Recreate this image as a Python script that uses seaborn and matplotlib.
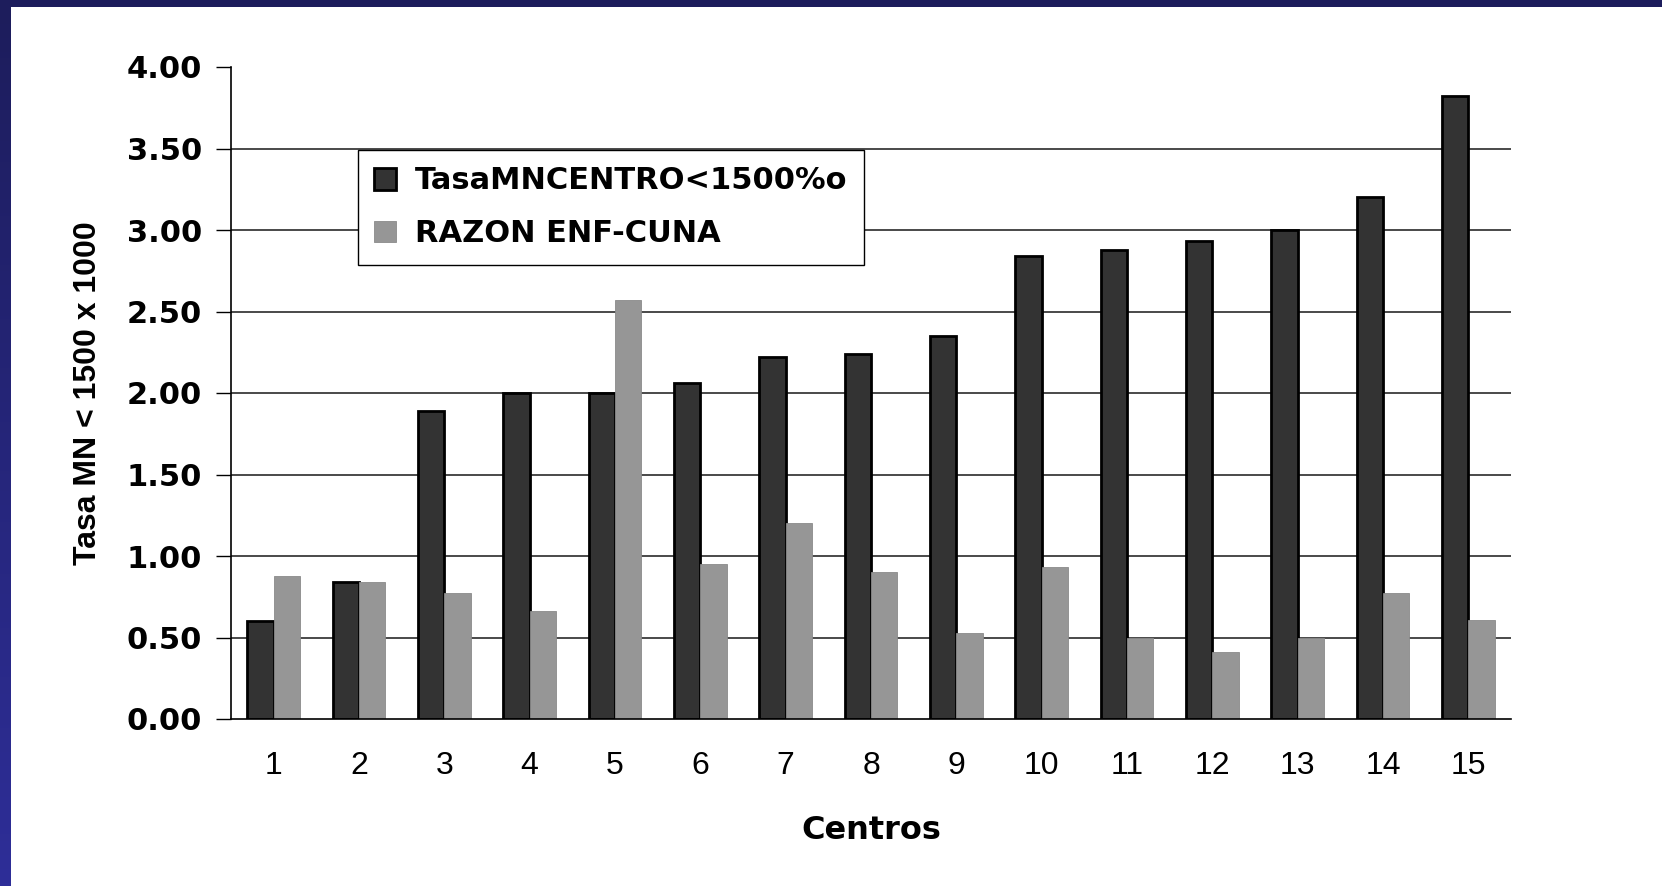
import numpy as np
import pandas as pd
import matplotlib
matplotlib.use("Agg")
import matplotlib.pyplot as plt
import seaborn as sns
from matplotlib.patches import Patch
from matplotlib.colors import LinearSegmentedColormap

# Data per centre
centros = [str(i) for i in range(1, 16)]
tasa_mn = [0.60, 0.84, 1.89, 2.00, 2.00, 2.06, 2.22, 2.24, 2.35, 2.84, 2.88, 2.93, 3.00, 3.20, 3.82]
razon_enf_cuna = [0.88, 0.84, 0.77, 0.66, 2.57, 0.95, 1.20, 0.90, 0.53, 0.93, 0.50, 0.41, 0.50, 0.77, 0.61]
series_names = ["TasaMNCENTRO<1500%o", "RAZON ENF-CUNA"]
series_colors = ["#333333", "#969696"]
y_ticks = [0.0, 0.5, 1.0, 1.5, 2.0, 2.5, 3.0, 3.5, 4.0]

df = pd.DataFrame({
    "Centro": centros + centros,
    "Valor": tasa_mn + razon_enf_cuna,
    "Serie": [series_names[0]] * len(centros) + [series_names[1]] * len(centros),
})

sns.set_theme(style="white")
plt.rcParams["font.family"] = ["Liberation Sans", "DejaVu Sans"]
plt.rcParams["text.color"] = "black"
WIDE_BOLD = ["DejaVu Sans"]

W, H = 1662, 886
fig = plt.figure(figsize=(W / 100, H / 100), dpi=100)
fig.patch.set_facecolor("white")

# Slide frame: dark band on top, gradient band on the left
top_ax = fig.add_axes([0, 1 - 7 / H, 1, 7 / H])
top_ax.set_facecolor("#1d1d5c")
top_ax.set_xticks([]); top_ax.set_yticks([])
for s in top_ax.spines.values():
    s.set_visible(False)

left_ax = fig.add_axes([0, 0, 10.5 / W, 1 - 7 / H])
cmap = LinearSegmentedColormap.from_list("band", ["#1d1d5c", "#2e2e98"])
left_ax.imshow(np.linspace(0, 1, 256).reshape(-1, 1), aspect="auto", cmap=cmap)
left_ax.axis("off")

# Main chart
ax = fig.add_axes([231 / W, 1 - 719 / H, 1280 / W, 652 / H])
sns.barplot(data=df, x="Centro", y="Valor", hue="Serie", hue_order=series_names,
            palette=series_colors, width=0.62, gap=0, saturation=1,
            errorbar=None, legend=False, ax=ax)

n = len(centros)
for i, p in enumerate(ax.patches[:2 * n]):
    if i < n:
        p.set_edgecolor("black")
        p.set_linewidth(2.0)
        p.set_zorder(3)
    else:
        p.set_edgecolor("#8a8a8a")
        p.set_linewidth(0.6)
        p.set_zorder(4)

ax.set_xlim(-0.5, n - 0.5)
ax.set_ylim(0, 4)
ax.set_yticks(y_ticks)
ax.set_yticklabels([f"{v:.2f}" for v in y_ticks], fontsize=22, fontweight="bold",
                   family=WIDE_BOLD)
ax.set_xticks(range(n))
ax.set_xticklabels(centros, fontsize=23)
ax.set_xticks(np.arange(-0.5, n, 1.0), minor=True)
ax.tick_params(axis="x", which="major", length=0, pad=23, colors="black")
ax.tick_params(axis="x", which="minor", length=9, width=1, color="black", direction="out")
ax.tick_params(axis="y", which="major", length=11, width=1, color="black", direction="out",
               pad=10, labelcolor="black", left=True)

# Horizontal gridlines (none at the top value)
for v in y_ticks[1:-1]:
    ax.axhline(v, color="#3a3a3a", linewidth=1.3, zorder=1)
ax.set_axisbelow(True)

for side in ["top", "right"]:
    ax.spines[side].set_visible(False)
for side in ["left", "bottom"]:
    ax.spines[side].set_color("black")
    ax.spines[side].set_linewidth(1.2)
    ax.spines[side].set_zorder(5)

ax.set_xlabel("Centros", fontsize=23, fontweight="bold", color="black", family=WIDE_BOLD)
ax.xaxis.set_label_coords(0.5, -0.148)
ax.set_ylabel("Tasa MN < 1500 x 1000", fontsize=23, fontweight="bold", color="black")
ax.yaxis.set_label_coords(-0.10, 0.50)

handles = [Patch(facecolor=series_colors[0], edgecolor="black", linewidth=2.0),
           Patch(facecolor=series_colors[1], edgecolor="#8a8a8a", linewidth=0.6)]
leg = ax.legend(handles, series_names, loc="upper left", bbox_to_anchor=(0.099, 0.873),
                borderaxespad=0, fancybox=False, framealpha=1, frameon=True,
                prop={"size": 22, "weight": "bold", "family": WIDE_BOLD},
                handlelength=0.72, handleheight=0.72,
                handletextpad=0.6, labelspacing=0.78, borderpad=0.54)
leg.get_frame().set_edgecolor("black")
leg.get_frame().set_linewidth(1.0)
for t in leg.get_texts():
    t.set_color("black")
leg.set_zorder(6)

fig.savefig("out.png", dpi=100, facecolor=fig.get_facecolor())
